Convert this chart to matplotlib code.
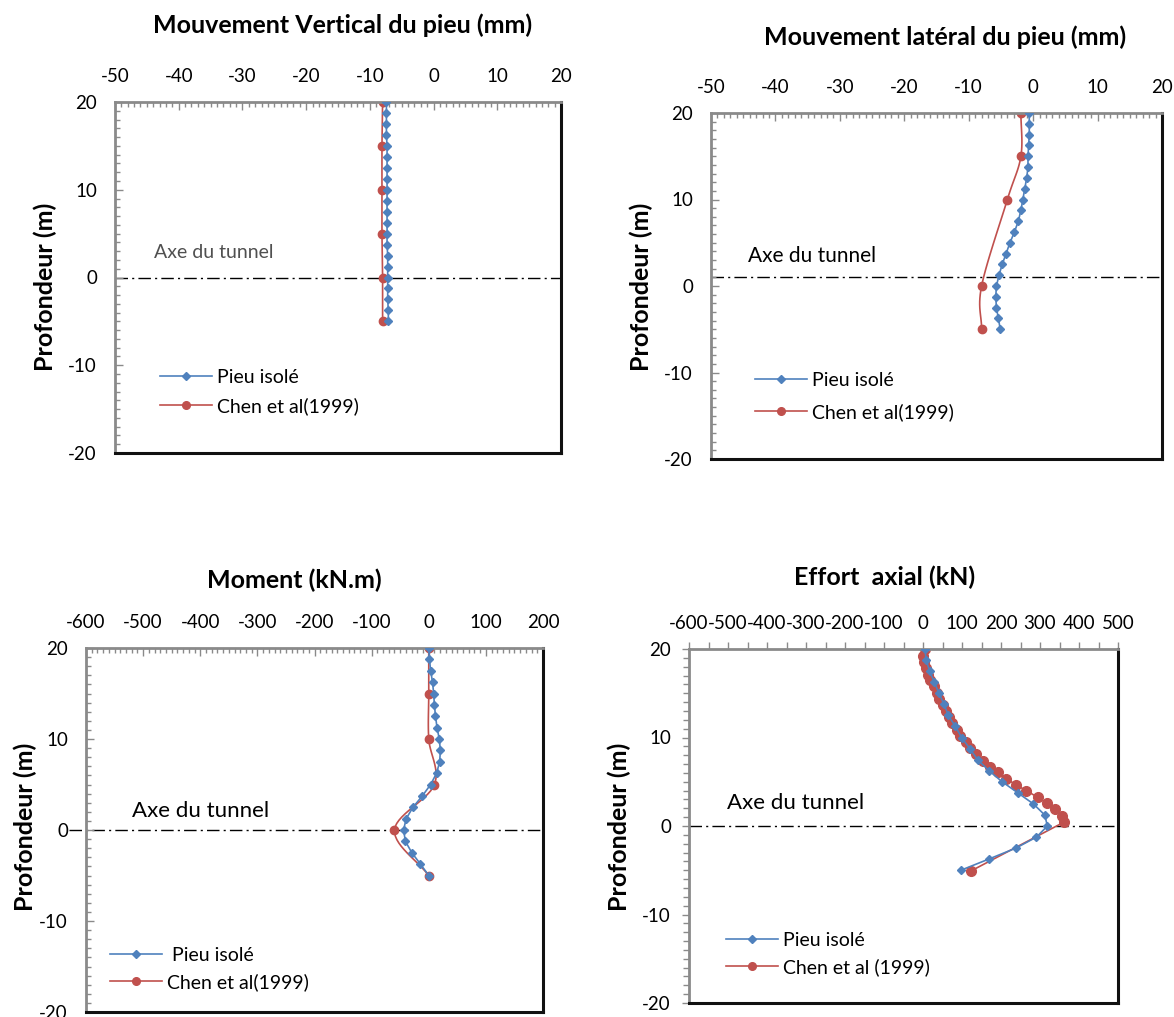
import numpy as np
import matplotlib
matplotlib.use("Agg")
import matplotlib.pyplot as plt
from matplotlib.ticker import MultipleLocator
from matplotlib.lines import Line2D

plt.rcParams['font.family'] = ['Lato', 'DejaVu Sans']
plt.rcParams['axes.unicode_minus'] = False

# ---------------- data ----------------
depth_fine = [20, 18.75, 17.5, 16.25, 15, 13.75, 12.5, 11.25, 10, 8.75, 7.5,
              6.25, 5, 3.75, 2.5, 1.25, 0, -1.25, -2.5, -3.75, -5]
depth_chen = [20, 15, 10, 5, 0, -5]

# Panel 1 : vertical movement (mm)
vert_pieu = [-7.4, -7.4, -7.4, -7.4, -7.3, -7.3, -7.3, -7.3, -7.3, -7.3, -7.3,
             -7.3, -7.3, -7.3, -7.2, -7.2, -7.2, -7.2, -7.2, -7.1, -7.1]
vert_chen = [-8.0, -8.1, -8.1, -8.1, -8.0, -8.0]

# Panel 2 : lateral movement (mm)
lat_pieu = [-0.6, -0.6, -0.6, -0.7, -0.8, -0.8, -1.0, -1.3, -1.6, -1.9, -2.3,
            -2.9, -3.6, -4.2, -4.8, -5.3, -5.7, -5.8, -5.7, -5.4, -5.1]
lat_chen = [-1.9, -1.9, -4.0, -8.0, -8.0]
depth_lat_chen = [20, 15, 10, 0, -5]

# Panel 3 : bending moment (kN.m)
mom_pieu = [0, 1.3, 3.3, 6.6, 8.6, 9.9, 11.8, 14.5, 18.4, 20.4, 19.1,
            13.8, 3.3, -11.2, -27.6, -39.5, -44.1, -40.8, -29.6, -14.5, 0]
mom_chen = [0, 0, 0, 10, -60, 0]

# Panel 4 : axial force (kN)
ax_pieu = [5, 8, 17, 29, 41, 54, 65, 83, 99, 120, 140,
           169, 203, 243, 283, 312, 319, 291, 238, 168, 97]
depth_ax_chen = [20, 19.25, 18.5, 17.8, 17.1, 16.5, 15.8, 15.07, 14.35, 13.7,
                 13.0, 12.3, 11.6, 10.9, 10.2, 9.5, 8.8, 8.1, 7.4, 6.7, 6.06,
                 5.35, 4.63, 4.0, 3.24, 2.56, 1.88, 1.17, 0.45, -5.08]
ax_chen = [6, 0, 3, 8, 12.5, 19, 27, 35, 41, 50, 58, 66, 75, 86, 96, 109,
           121, 137, 153, 171, 192, 214, 239, 265, 294, 318, 339, 357, 362, 123]

titles = ["Mouvement Vertical du pieu (mm)", "Mouvement latéral du pieu (mm)",
          "Moment (kN.m)", "Effort  axial (kN)"]
ylabel = "Profondeur (m)"
tunnel_label = "Axe du tunnel"
legend_p1 = ["Pieu isolé", "Chen et al(1999)"]
legend_p3 = [" Pieu isolé", "Chen et al(1999)"]
legend_p4 = ["Pieu isolé", "Chen et al (1999)"]

BLUE = '#4F81BD'
RED = '#C0504D'
GREY_SP = '#8a8a8a'
TICK_FS = 13.5
LEG_FS = 14
TITLE_FS = 18
YLAB_FS = 18

W, H = 1174, 1017
fig = plt.figure(figsize=(W / 100, H / 100), dpi=100)


def add_axes(l, r, t, b):
    return fig.add_axes([l / W, 1 - b / H, (r - l) / W, (b - t) / H])


def smooth(x, y, n=14):
    x = np.asarray(x, float)
    y = np.asarray(y, float)
    P = np.column_stack([x, y])
    P = np.vstack([2 * P[0] - P[1], P, 2 * P[-1] - P[-2]])
    out = []
    for i in range(1, len(P) - 2):
        p0, p1, p2, p3 = P[i - 1], P[i], P[i + 1], P[i + 2]
        for t in np.linspace(0, 1, n, endpoint=False):
            t2, t3 = t * t, t * t * t
            pt = 0.5 * ((2 * p1) + (-p0 + p2) * t + (2 * p0 - 5 * p1 + 4 * p2 - p3) * t2
                        + (-p0 + 3 * p1 - 3 * p2 + p3) * t3)
            out.append(pt)
    out.append(P[-2])
    out = np.array(out)
    return out[:, 0], out[:, 1]


def style(ax, xlim, xmaj, xmin, inward=True):
    ax.set_xlim(*xlim)
    ax.set_ylim(-20, 20)
    ax.xaxis.set_major_locator(MultipleLocator(xmaj))
    ax.xaxis.set_minor_locator(MultipleLocator(xmin))
    ax.yaxis.set_major_locator(MultipleLocator(10))
    ax.yaxis.set_minor_locator(MultipleLocator(1))
    ax.xaxis.tick_top()
    d = 'in' if inward else 'out'
    ax.tick_params(axis='x', which='both', direction=d, top=True, bottom=False,
                   labeltop=True, labelbottom=False, colors=GREY_SP, labelcolor='black',
                   labelsize=TICK_FS)
    ax.tick_params(axis='y', which='both', direction=d, left=True, right=False,
                   colors=GREY_SP, labelcolor='black', labelsize=TICK_FS)
    if inward:
        ax.tick_params(axis='x', which='major', length=6, width=1, pad=12)
        ax.tick_params(axis='y', which='major', length=6, width=1, pad=13)
        ax.tick_params(axis='both', which='minor', length=3.5, width=1)
    else:
        ax.tick_params(axis='x', which='both', length=5, width=1, pad=7)
        ax.tick_params(axis='y', which='major', length=5, width=1, pad=8)
        ax.tick_params(axis='y', which='minor', length=4, width=1)
    for s in ['top', 'left']:
        ax.spines[s].set_color(GREY_SP)
        ax.spines[s].set_linewidth(2)
    for s in ['bottom', 'right']:
        ax.spines[s].set_color('#111111')
        ax.spines[s].set_linewidth(2.2)


def tunnel_line(ax, y, x0=None, x1=None):
    xl = ax.get_xlim()
    x0 = xl[0] if x0 is None else x0
    x1 = xl[1] if x1 is None else x1
    ax.plot([x0, x1], [y, y], color='black', lw=1.0, linestyle=(0, (9, 3, 1.5, 3)),
            clip_on=False, zorder=1)


def legend(ax, labels, x, y, spacing):
    h = [Line2D([], [], color=BLUE, marker='D', ms=4.5, lw=1.2),
         Line2D([], [], color=RED, marker='o', ms=5.5, lw=1.2)]
    ax.legend(h, labels, loc='upper left', bbox_to_anchor=(x / W, 1 - y / H),
              bbox_transform=fig.transFigure, frameon=False, borderpad=0,
              borderaxespad=0, handlelength=2.65, handletextpad=0.3,
              labelspacing=spacing, fontsize=LEG_FS)


def titles_for(cx, cy, title, yx, yy):
    fig.text(cx / W, 1 - cy / H, title, ha='center', va='center',
             fontsize=TITLE_FS, fontweight='bold')
    fig.text(yx / W, 1 - yy / H, ylabel, ha='center', va='center', rotation=90,
             fontsize=YLAB_FS, fontweight='bold')


# ---------------- panel 1 ----------------
ax1 = add_axes(115, 561, 102, 453)
style(ax1, (-50, 20), 10, 1)
tunnel_line(ax1, 0)
ax1.plot(vert_pieu, depth_fine, color=BLUE, marker='D', ms=4.5, lw=1.2, zorder=3)
ax1.plot(vert_chen, depth_chen, color=RED, marker='o', ms=6, lw=1.2, zorder=2)
ax1.text(-43.9, 2.9, tunnel_label, fontsize=14, color='#505050', va='center', ha='left')
legend(ax1, legend_p1, 160, 369, 0.58)
titles_for(343, 25, titles[0], 45, 287)

# ---------------- panel 2 ----------------
ax2 = add_axes(711, 1162, 113, 459)
style(ax2, (-50, 20), 10, 1)
tunnel_line(ax2, 1)
ax2.plot(lat_pieu, depth_fine, color=BLUE, marker='D', ms=4.5, lw=1.2, zorder=3)
sx, sy = smooth(lat_chen, depth_lat_chen)
ax2.plot(sx, sy, color=RED, lw=1.2, zorder=2)
ax2.plot(lat_chen, depth_lat_chen, color=RED, marker='o', ms=6, lw=0, zorder=2)
ax2.text(-44.2, 3.5, tunnel_label, fontsize=15, color='black', va='center', ha='left')
legend(ax2, legend_p1, 755, 372, 0.72)
titles_for(945, 37, titles[1], 641, 287)

# ---------------- panel 3 ----------------
ax3 = add_axes(86, 543, 648, 1012)
style(ax3, (-600, 200), 100, 10)
tunnel_line(ax3, 0, x0=-630)
ax3.plot(mom_pieu, depth_fine, color=BLUE, marker='D', ms=4.5, lw=1.2, zorder=3)
sx, sy = smooth(mom_chen, depth_chen)
ax3.plot(sx, sy, color=RED, lw=1.2, zorder=2)
ax3.plot(mom_chen, depth_chen, color=RED, marker='o', ms=6, lw=0, zorder=2)
ax3.text(-520, 2.1, tunnel_label, fontsize=16, color='black', va='center', ha='left')
legend(ax3, legend_p3, 110, 947, 0.46)
titles_for(294, 580, titles[2], 25, 827)

# ---------------- panel 4 ----------------
ax4 = add_axes(689, 1118, 649, 1003)
style(ax4, (-600, 500), 100, 50, inward=False)
tunnel_line(ax4, 0)
ax4.plot(ax_pieu, depth_fine, color=BLUE, marker='D', ms=4.5, lw=1.2, zorder=3)
ax4.plot(ax_chen, depth_ax_chen, color=RED, marker='o', ms=7, lw=1.2, zorder=2)
ax4.text(-503, 2.6, tunnel_label, fontsize=16, color='black', va='center', ha='left')
legend(ax4, legend_p4, 726, 932, 0.45)
titles_for(885, 577, titles[3], 619, 827)

fig.savefig('out.png', dpi=100, facecolor='white')
